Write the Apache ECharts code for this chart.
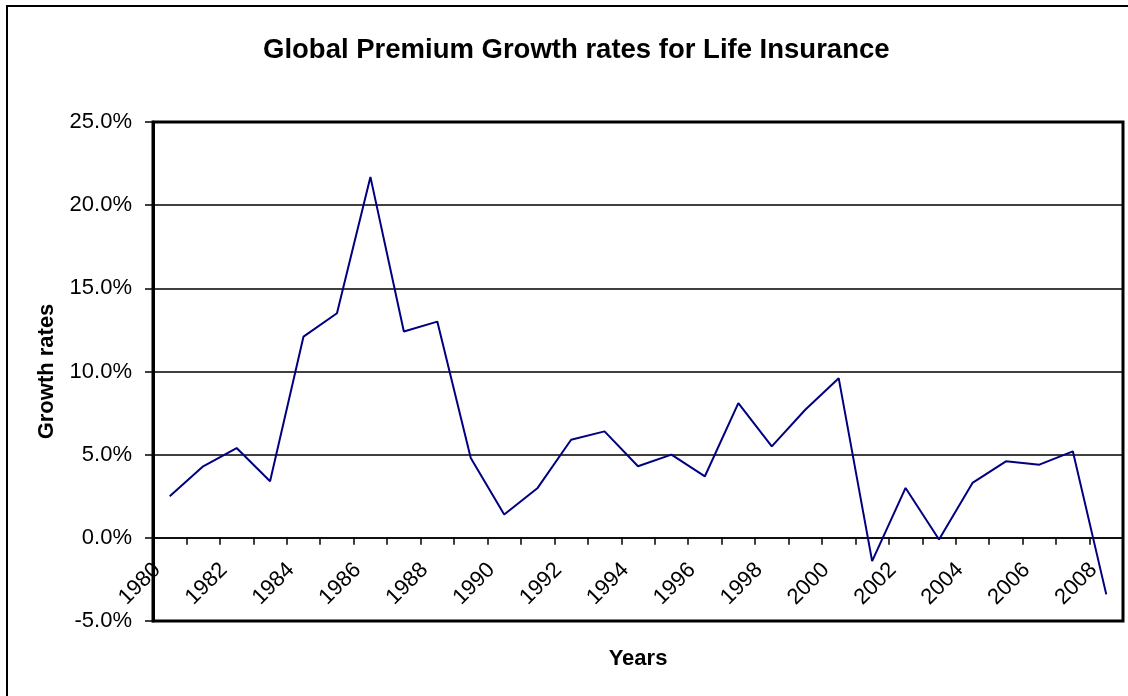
<!DOCTYPE html>
<html>
<head>
<meta charset="utf-8">
<title>Global Premium Growth rates for Life Insurance</title>
<script src="https://cdn.jsdelivr.net/npm/echarts@6/dist/echarts.min.js"></script>
<style>
  html, body { margin: 0; padding: 0; background: #fff; }
  #chart { width: 1128px; height: 696px; }
</style>
</head>
<body>
<div id="chart"></div>
<script>
// Years on the category axis
const years = ['1980','1981','1982','1983','1984','1985','1986','1987','1988','1989',
               '1990','1991','1992','1993','1994','1995','1996','1997','1998','1999',
               '2000','2001','2002','2003','2004','2005','2006','2007','2008'];

// Annual growth rate of global life premiums, in percent
const growth = [2.5, 4.3, 5.4, 3.4, 12.1, 13.5, 21.7, 12.4, 13.0, 4.8,
                1.4, 3.0, 5.9, 6.4, 4.3, 5.0, 3.7, 8.1, 5.5, 7.7,
                9.6, -1.4, 3.0, -0.1, 3.3, 4.6, 4.4, 5.2, -3.4];

// Value axis range (percent)
const yMin = -5, yMax = 25, yStep = 5;

const FONT = '"Liberation Sans", Arial, sans-serif';

// Plot rectangle inside the 1128x696 canvas
const GRID = { left: 153, right: 5, top: 122, bottom: 75 };
const plotHeight = 696 - GRID.top - GRID.bottom;
// The category axis sits on the 0% line: shift it up from the plot bottom
const zeroOffset = -plotHeight * (0 - yMin) / (yMax - yMin);

const chart = echarts.init(document.getElementById('chart'), null, { renderer: 'canvas' });

chart.setOption({
  backgroundColor: '#ffffff',
  animation: false,
  title: {
    text: 'Global Premium Growth rates for Life Insurance',
    left: 258,
    top: 31,
    textStyle: { fontFamily: FONT, fontSize: 27.5, fontWeight: 'bold', color: '#000' }
  },
  graphic: [{
    type: 'rect',
    z: -1,
    shape: { x: 7, y: 6, width: 1300, height: 900 },
    style: { fill: 'none', stroke: '#000', lineWidth: 2 }
  }],
  grid: {
    left: GRID.left, right: GRID.right, top: GRID.top, bottom: GRID.bottom,
    containLabel: false,
    outerBoundsMode: 'none',
    show: true,
    borderColor: '#000',
    borderWidth: 3,
    backgroundColor: 'transparent'
  },
  xAxis: {
    type: 'category',
    data: years,
    boundaryGap: true,
    position: 'bottom',
    offset: zeroOffset,
    name: 'Years',
    nameLocation: 'middle',
    nameGap: 110,
    nameTextStyle: { fontFamily: FONT, fontSize: 22, fontWeight: 'bold', color: '#000' },
    axisLine: { show: true, onZero: false, lineStyle: { color: '#000', width: 1.5 } },
    axisTick: { show: true, inside: false, length: 7, interval: 0, lineStyle: { color: '#000', width: 1.5 } },
    axisLabel: {
      interval: 1,
      rotate: 45,
      margin: 16,
      padding: [0, 18, 0, 0],
      fontFamily: FONT,
      fontSize: 22,
      color: '#000'
    },
    splitLine: { show: false }
  },
  yAxis: {
    type: 'value',
    min: yMin,
    max: yMax,
    interval: yStep,
    name: 'Growth rates',
    nameLocation: 'middle',
    nameGap: 95,
    nameTextStyle: { fontFamily: FONT, fontSize: 22, fontWeight: 'bold', color: '#000' },
    axisLine: { show: true, onZero: false, lineStyle: { color: '#000', width: 3 } },
    axisTick: { show: true, inside: false, length: 8, lineStyle: { color: '#000', width: 1.5 } },
    axisLabel: {
      margin: 21,
      fontFamily: FONT,
      fontSize: 22,
      color: '#000',
      formatter: v => v.toFixed(1) + '%'
    },
    splitLine: { show: true, lineStyle: { color: '#000', width: 1.5 } }
  },
  series: [{
    type: 'line',
    data: growth,
    showSymbol: false,
    symbol: 'none',
    smooth: false,
    lineStyle: { color: '#000080', width: 2 },
    itemStyle: { color: '#000080' },
    z: 3
  }]
});
</script>
</body>
</html>
